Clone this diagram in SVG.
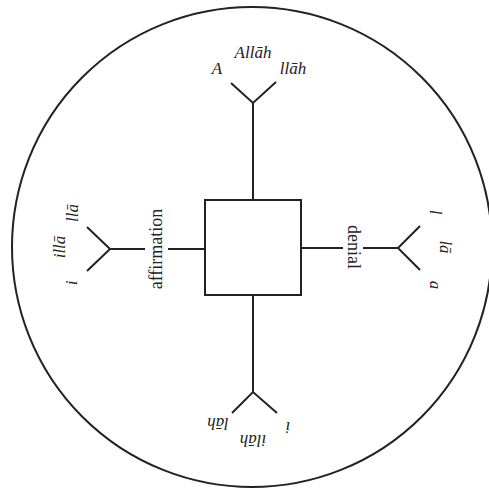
<svg xmlns="http://www.w3.org/2000/svg" width="489" height="491" viewBox="0 0 489 491">
<style>
.ln{stroke:#222;stroke-width:2;fill:none}
.rm{font-family:"Liberation Serif",serif;font-size:18px;fill:#222}
.it{font-family:"Liberation Serif",serif;font-style:italic;font-size:17px;fill:#222}
</style>
<rect width="489" height="491" fill="#fff"/>
<circle id="outer" cx="252" cy="247" r="240" class="ln" stroke-width="1.8"/>
<g id="connectors">
<path class="ln" d="M253,200 V103 M231,83 L253,103 L276,82"/>
<path class="ln" d="M205,249 H168 M145,249 H110 M87,227 L110,249 L87,271"/>
<path class="ln" d="M301,248 H343 M363,248 H398 M420,226 L398,248 L420,270"/>
<path class="ln" d="M253,295 V392 M232,413 L253,392 L277,413"/>
</g>
<g id="center"><rect x="205" y="200" width="96" height="95" class="ln"/></g>
<g id="top">
<text class="it" x="217" y="74" text-anchor="middle">A</text>
<text class="it" x="253" y="58" text-anchor="middle">Allāh</text>
<text class="it" x="293" y="74" text-anchor="middle">llāh</text>
</g>
<g id="left">
<text class="rm" transform="translate(162,249) rotate(-90)" text-anchor="middle">affirmation</text>
<text class="it" transform="translate(78,213) rotate(-90)" text-anchor="middle">llā</text>
<text class="it" transform="translate(65,247) rotate(-90)" text-anchor="middle">illā</text>
<text class="it" transform="translate(77,283) rotate(-90)" text-anchor="middle">i</text>
</g>
<g id="right">
<text class="rm" transform="translate(348,247) rotate(90)" text-anchor="middle">denial</text>
<text class="it" transform="translate(430,212) rotate(90)" text-anchor="middle">l</text>
<text class="it" transform="translate(440,247) rotate(90)" text-anchor="middle">lā</text>
<text class="it" transform="translate(430,285) rotate(90)" text-anchor="middle">a</text>
</g>
<g id="bottom">
<text class="it" transform="translate(218,418) rotate(180)" text-anchor="middle">lāh</text>
<text class="it" transform="translate(253,435) rotate(180)" text-anchor="middle">ilāh</text>
<text class="it" transform="translate(288,422) rotate(180)" text-anchor="middle">i</text>
</g>
</svg>
